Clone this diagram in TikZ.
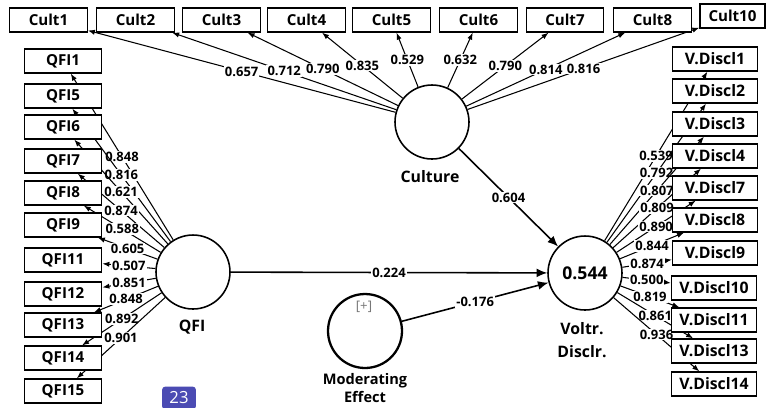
\documentclass[tikz,border=0pt]{standalone}
\usepackage{fontspec}
\setmainfont{Open Sans}
\usepackage{tikz}
\usetikzlibrary{arrows.meta,positioning,calc,backgrounds}
\definecolor{PlsGrey}{HTML}{777777}
\definecolor{BadgeBlue}{HTML}{4B4BB3}

\begin{document}
\begin{tikzpicture}[x=0.02cm,y=-0.02cm,>={Latex[length=4pt,width=3pt]},
  ind/.style={draw,fill=white,line width=0.7pt,minimum width=1.55cm,minimum height=0.48cm,inner sep=0pt,font=\bfseries\fontsize{8.6}{10}\selectfont},
  vind/.style={ind,minimum width=1.7cm,font=\bfseries\fontsize{9}{10}\selectfont},
  lv/.style={circle,draw,fill=white,line width=0.9pt,minimum size=1.48cm,inner sep=0pt},
  lvname/.style={align=center,font=\bfseries\fontsize{9}{13.5}\selectfont},
  load/.style={->,line width=0.6pt},
  inner/.style={->,line width=0.9pt,>={Latex[length=6pt,width=5pt]}},
  coef/.style={fill=white,inner sep=0.6pt,font=\bfseries\fontsize{7.4}{8}\selectfont}]
  \useasboundingbox (0,0) rectangle (767,407);

  % latent variables
  \node[lv] (culture) at (432,122) {};
  \node[lv] (qfi) at (193,272) {};
  \node[lv,font=\bfseries\fontsize{10}{11}\selectfont] (voltr) at (585,273) {0.544};
  \node[lv,line width=1.3pt] (moder) at (365,331) {};
  \node[lvname] (culturename) at (430,177) {Culture};
  \node[lvname] (qfiname) at (192,327) {QFI};
  \node[lvname] (voltrname) at (582,340) {Voltr.\\Disclr.};
  \node[lvname,font=\bfseries\fontsize{8.3}{10}\selectfont] (modername) at (365,388) {Moderating\\Effect};
  \node[text=PlsGrey,font=\fontsize{7.5}{8}\selectfont] (moderplus) at (364,307) {[+]};

  % indicators of Culture
  \node[ind] (cult1) at (48.5,20) {Cult1};
  \node[ind] (cult2) at (135.5,20) {Cult2};
  \node[ind] (cult3) at (221.5,20) {Cult3};
  \node[ind] (cult4) at (306.5,20) {Cult4};
  \node[ind] (cult5) at (391.5,20) {Cult5};
  \node[ind] (cult6) at (478.5,20) {Cult6};
  \node[ind] (cult7) at (565,20) {Cult7};
  \node[ind] (cult8) at (652.5,20) {Cult8};
  \node[ind,minimum width=1.3cm] (cult10) at (732.5,16) {Cult10};

  % indicators of QFI
  \node[ind] (qfi1) at (63,61) {QFI1};
  \node[ind] (qfi5) at (63,96) {QFI5};
  \node[ind] (qfi6) at (63,127) {QFI6};
  \node[ind] (qfi7) at (63,161) {QFI7};
  \node[ind] (qfi8) at (63,193) {QFI8};
  \node[ind] (qfi9) at (63,225) {QFI9};
  \node[ind] (qfi11) at (63,260) {QFI11};
  \node[ind] (qfi12) at (63,294) {QFI12};
  \node[ind] (qfi13) at (63,325) {QFI13};
  \node[ind] (qfi14) at (63,358) {QFI14};
  \node[ind] (qfi15) at (63,391) {QFI15};

  % indicators of Voltr. Disclr.
  \node[vind] (vd1) at (715,59) {V.Discl1};
  \node[vind] (vd2) at (715,91) {V.Discl2};
  \node[vind] (vd3) at (715,124) {V.Discl3};
  \node[vind] (vd4) at (715,156) {V.Discl4};
  \node[vind] (vd7) at (715,188) {V.Discl7};
  \node[vind] (vd8) at (715,220) {V.Discl8};
  \node[vind] (vd9) at (715,253) {V.Discl9};
  \node[vind] (vd10) at (714,288) {V.Discl10};
  \node[vind] (vd11) at (714,320) {V.Discl11};
  \node[vind] (vd13) at (714,351) {V.Discl13};
  \node[vind] (vd14) at (714,384) {V.Discl14};

  \node[fill=BadgeBlue,text=white,rounded corners=2pt,minimum width=0.68cm,minimum height=0.46cm,inner sep=0pt,font=\fontsize{9.5}{11}\selectfont] (page) at (179,398) {23};

  \begin{pgfonlayer}{background}
    % outer loadings
    \draw[load] (culture) -- node[coef]{0.657} (cult1);
    \draw[load] (culture) -- node[coef]{0.712} (cult2);
    \draw[load] (culture) -- node[coef]{0.790} (cult3);
    \draw[load] (culture) -- node[coef]{0.835} (cult4);
    \draw[load] (culture) -- node[coef]{0.529} (cult5);
    \draw[load] (culture) -- node[coef]{0.632} (cult6);
    \draw[load] (culture) -- node[coef]{0.790} (cult7);
    \draw[load] (culture) -- node[coef]{0.814} (cult8);
    \draw[load] (culture) -- node[coef]{0.816} (cult10);

    \draw[load] (qfi) -- node[coef]{0.848} (qfi1);
    \draw[load] (qfi) -- node[coef]{0.816} (qfi5);
    \draw[load] (qfi) -- node[coef]{0.621} (qfi6);
    \draw[load] (qfi) -- node[coef]{0.874} (qfi7);
    \draw[load] (qfi) -- node[coef]{0.588} (qfi8);
    \draw[load] (qfi) -- node[coef]{0.605} (qfi9);
    \draw[load] (qfi) -- node[coef]{0.507} (qfi11);
    \draw[load] (qfi) -- node[coef]{0.851} (qfi12);
    \draw[load] (qfi) -- node[coef]{0.848} (qfi13);
    \draw[load] (qfi) -- node[coef]{0.892} (qfi14);
    \draw[load] (qfi) -- node[coef]{0.901} (qfi15);

    \draw[load] (voltr) -- node[coef]{0.539} (vd1);
    \draw[load] (voltr) -- node[coef]{0.792} (vd2);
    \draw[load] (voltr) -- node[coef]{0.807} (vd3);
    \draw[load] (voltr) -- node[coef]{0.809} (vd4);
    \draw[load] (voltr) -- node[coef]{0.890} (vd7);
    \draw[load] (voltr) -- node[coef]{0.844} (vd8);
    \draw[load] (voltr) -- node[coef]{0.874} (vd9);
    \draw[load] (voltr) -- node[coef]{0.500} (vd10);
    \draw[load] (voltr) -- node[coef]{0.819} (vd11);
    \draw[load] (voltr) -- node[coef]{0.861} (vd13);
    \draw[load] (voltr) -- node[coef]{0.936} (vd14);

    % path coefficients
    \draw[inner] (culture) -- node[coef]{0.604} (voltr);
    \draw[inner] (qfi) -- node[coef]{0.224} (voltr);
    \draw[inner] (moder) -- node[coef]{-0.176} (voltr);
  \end{pgfonlayer}
\end{tikzpicture}
\end{document}
